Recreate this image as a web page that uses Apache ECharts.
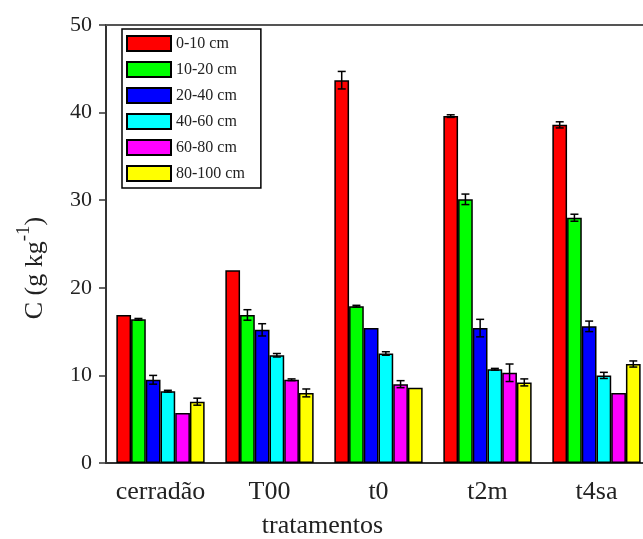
<!DOCTYPE html>
<html>
<head>
<meta charset="utf-8">
<script src="https://cdn.jsdelivr.net/npm/echarts@6/dist/echarts.min.js"></script>
<style>
html,body{margin:0;padding:0;background:#fff;}
#chart{width:643px;height:539px;}
</style>
</head>
<body>
<div id="chart"></div>
<script>
var categories = ['cerradão', 'T00', 't0', 't2m', 't4sa'];
var seriesNames = ['0-10 cm', '10-20 cm', '20-40 cm', '40-60 cm', '60-80 cm', '80-100 cm'];
var colors = ['#ff0000', '#00ff00', '#0000ff', '#00ffff', '#ff00ff', '#ffff00'];
var yTicks = [0, 10, 20, 30, 40, 50];

// values per depth layer, one value per treatment
var v0_10   = [16.9, 22.0, 43.7, 39.6, 38.6];
var v10_20  = [16.4, 16.9, 17.9, 30.1, 28.0];
var v20_40  = [9.5, 15.2, 15.4, 15.4, 15.6];
var v40_60  = [8.2, 12.3, 12.5, 10.7, 10.0];
var v60_80  = [5.7, 9.5, 9.0, 10.3, 8.0];
var v80_100 = [7.0, 8.0, 8.6, 9.2, 11.3];

// error bar half-lengths (0 = no error bar drawn)
var e0_10   = [0, 0, 1.0, 0.15, 0.35];
var e10_20  = [0.1, 0.6, 0.1, 0.6, 0.4];
var e20_40  = [0.5, 0.7, 0, 1.0, 0.6];
var e40_60  = [0.1, 0.2, 0.2, 0.1, 0.35];
var e60_80  = [0, 0.1, 0.4, 1.0, 0];
var e80_100 = [0.4, 0.45, 0, 0.4, 0.35];

var values = [v0_10, v10_20, v20_40, v40_60, v60_80, v80_100];
var errors = [e0_10, e10_20, e20_40, e40_60, e60_80, e80_100];

var CAT_GAP = 0.19;
var nBars = seriesNames.length;

var series = seriesNames.map(function (name, i) {
  return {
    name: name,
    type: 'bar',
    data: values[i],
    barGap: '0%',
    barCategoryGap: (CAT_GAP * 100) + '%',
    itemStyle: { color: colors[i], borderColor: '#000', borderWidth: 1.5 },
    emphasis: { disabled: true }
  };
});

var errData = [];
for (var s = 0; s < nBars; s++) {
  for (var c = 0; c < categories.length; c++) {
    if (errors[s][c] > 0) errData.push([c, s, values[s][c], errors[s][c]]);
  }
}

series.push({
  type: 'custom',
  z: 10,
  silent: true,
  encode: { x: 0, y: 2 },
  data: errData,
  renderItem: function (params, api) {
    var cat = api.value(0), idx = api.value(1), val = api.value(2), err = api.value(3);
    var bandW = api.size([1, 0])[0];
    var barW = bandW * (1 - CAT_GAP) / nBars;
    var center = api.coord([cat, val]);
    var x = center[0] + (idx - (nBars - 1) / 2) * barW;
    var yTop = api.coord([cat, val + err])[1];
    var yBot = api.coord([cat, val - err])[1];
    var cap = 4;
    var st = { stroke: '#000', lineWidth: 1.5, fill: null };
    return {
      type: 'group',
      children: [
        { type: 'line', shape: { x1: x, y1: yTop, x2: x, y2: yBot }, style: st },
        { type: 'line', shape: { x1: x - cap, y1: yTop, x2: x + cap, y2: yTop }, style: st },
        { type: 'line', shape: { x1: x - cap, y1: yBot, x2: x + cap, y2: yBot }, style: st }
      ]
    };
  }
});

var serif = 'Liberation Serif';

var option = {
  animation: false,
  backgroundColor: '#fff',
  grid: {
    left: 106, top: 25, width: 545, height: 438, show: false,
    containLabel: false, outerBoundsMode: 'none'
  },
  legend: {
    data: seriesNames,
    orient: 'vertical',
    left: 122, top: 29,
    itemWidth: 44, itemHeight: 15, itemGap: 9,
    padding: [6, 16, 6, 4],
    borderColor: '#000', borderWidth: 1.5,
    backgroundColor: '#fff',
    icon: 'rect',
    textStyle: { fontFamily: serif, fontSize: 16, color: '#222' }
  },
  xAxis: [{
    type: 'category',
    data: categories,
    boundaryGap: true,
    name: 'tratamentos',
    nameLocation: 'middle',
    nameGap: 50,
    nameTextStyle: { fontFamily: serif, fontSize: 26, color: '#222', padding: [0, 112, 0, 0] },
    axisLine: { lineStyle: { color: '#333', width: 2 } },
    axisTick: { alignWithLabel: true, length: 9, lineStyle: { color: '#333', width: 1.5 } },
    axisLabel: { fontFamily: serif, fontSize: 26, color: '#222', margin: 16, interval: 0, hideOverlap: false },
    splitLine: { show: false }
  }, {
    type: 'category',
    data: categories,
    position: 'top',
    axisLine: { show: true, lineStyle: { color: '#555', width: 2 } },
    axisTick: { show: false },
    axisLabel: { show: false },
    splitLine: { show: false }
  }],
  yAxis: {
    type: 'value',
    min: yTicks[0], max: yTicks[yTicks.length - 1], interval: 10,
    name: '{a|C (g kg}{s|-1}{a|)}',
    nameLocation: 'middle',
    nameRotate: 90,
    nameGap: 50,
    nameTextStyle: {
      padding: [0, 48, 0, 0],
      rich: {
        a: { fontFamily: serif, fontSize: 26, color: '#222' },
        s: { fontFamily: serif, fontSize: 19, color: '#222', padding: [0, 0, 22, 0] }
      }
    },
    axisLine: { show: true, lineStyle: { color: '#333', width: 2 } },
    axisTick: { show: true, inside: false, length: 7, lineStyle: { color: '#333', width: 1.5 } },
    axisLabel: { fontFamily: serif, fontSize: 22, color: '#222', margin: 14 },
    splitLine: { show: false }
  },
  series: series
};

var chart = echarts.init(document.getElementById('chart'), null, { renderer: 'canvas' });
chart.setOption(option);
</script>
</body>
</html>
